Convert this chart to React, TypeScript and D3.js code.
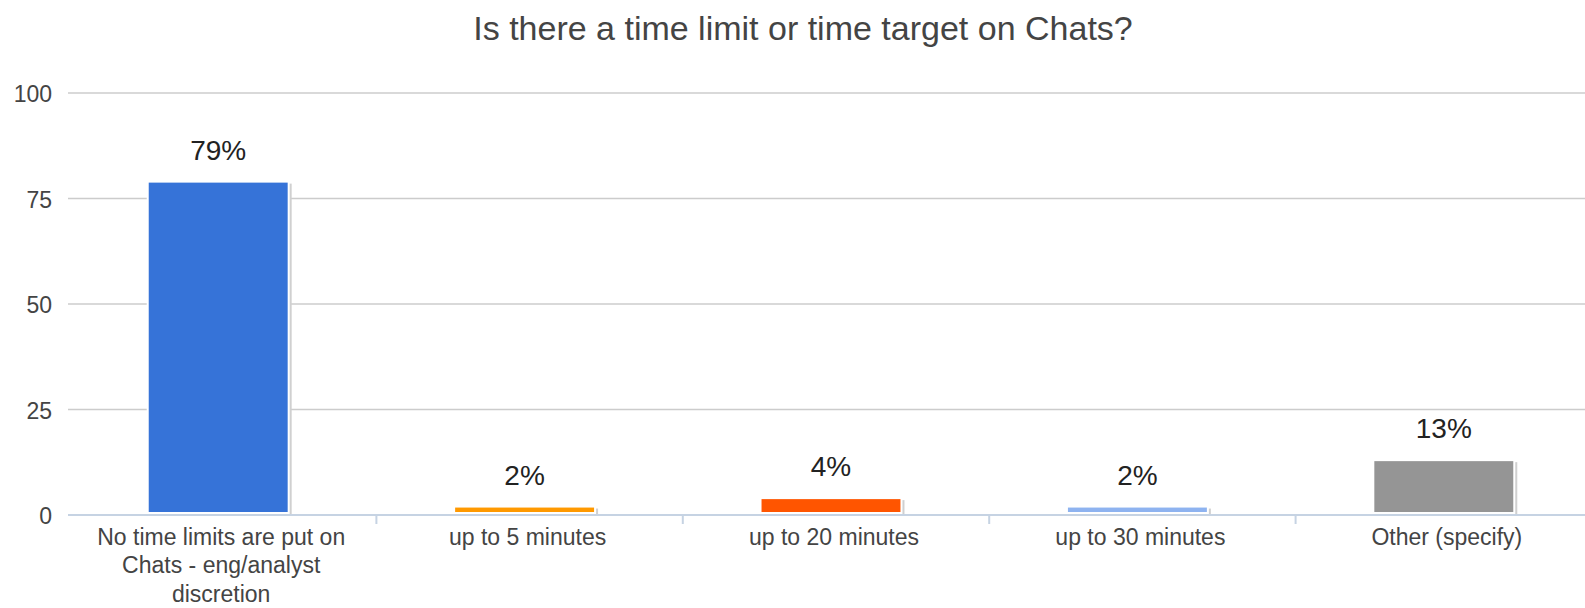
import React from 'react';
import * as d3 from 'd3';

// data
const categories = [
  'No time limits are put on Chats - eng/analyst discretion',
  'up to 5 minutes',
  'up to 20 minutes',
  'up to 30 minutes',
  'Other (specify)',
];
const categoryLines = [
  ['No time limits are put on', 'Chats - eng/analyst', 'discretion'],
  ['up to 5 minutes'],
  ['up to 20 minutes'],
  ['up to 30 minutes'],
  ['Other (specify)'],
];
const values = [79, 2, 4, 2, 13];
const barColors = ['#3673d8', '#ff9900', '#ff5500', '#8eb3f0', '#959595'];
const yTicks = [0, 25, 50, 75, 100];

const W = 1585;
const H = 608;
const font = '"Liberation Sans", Arial, sans-serif';

const App = () => {
  const left = 68;
  const top = 93;
  const bottom = 515;

  const x = d3.scaleBand<string>()
    .domain(categories)
    .range([65, 1597])
    .paddingInner(0.54)
    .paddingOuter(0.27);

  const y = d3.scaleLinear().domain([0, 100]).range([bottom, top]);

  const step = x.step();
  const start = x.range()[0];
  const tickXs = d3.range(1, categories.length).map((i) => start + i * step + 5);

  return (
    <svg width={W} height={H} style={{ display: 'block', position: 'absolute', left: 0, top: 0, background: '#fff' }}>
      <text x={803} y={40} textAnchor="middle" fontFamily={font} fontSize={34} fill="#444">
        Is there a time limit or time target on Chats?
      </text>

      {/* gridlines and y labels */}
      {yTicks.map((t) => (
        <g key={t}>
          {t !== 0 && (
            <line x1={left} x2={W} y1={y(t)} y2={y(t)} stroke="#cccccc" strokeWidth={1.5} />
          )}
          <text x={52} y={y(t) + 3} textAnchor="end" dominantBaseline="middle"
            fontFamily={font} fontSize={23} fill="#444">
            {t}
          </text>
        </g>
      ))}

      {/* bars */}
      {categories.map((c, i) => {
        const bx = x(c)!;
        const bw = x.bandwidth();
        const by = y(values[i]);
        const bh = bottom - 2 - by;
        return (
          <g key={c}>
            <rect x={bx + 2} y={by + 2} width={bw + 1} height={bh + 1} fill="#d0d0d0" />
            <rect x={bx} y={by} width={bw} height={bh} fill={barColors[i]} stroke="#fff" strokeWidth={2} />
            <text x={bx + bw / 2} y={by - 22} textAnchor="middle" fontFamily={font} fontSize={28} fill="#222">
              {values[i]}%
            </text>
          </g>
        );
      })}

      {/* x axis */}
      <line x1={left} x2={W} y1={bottom} y2={bottom} stroke="#c6d3e3" strokeWidth={2} />
      {tickXs.map((tx, i) => (
        <line key={i} x1={tx} x2={tx} y1={bottom} y2={bottom + 9} stroke="#c6d3e3" strokeWidth={2} />
      ))}
      {categories.map((c, i) => (
        <text key={c} textAnchor="middle" fontFamily={font} fontSize={23} fill="#444">
          {categoryLines[i].map((line, j) => (
            <tspan key={j} x={x(c)! + x.bandwidth() / 2 + 3} y={545 + j * 28.3}>
              {line}
            </tspan>
          ))}
        </text>
      ))}
    </svg>
  );
};

export default App;
